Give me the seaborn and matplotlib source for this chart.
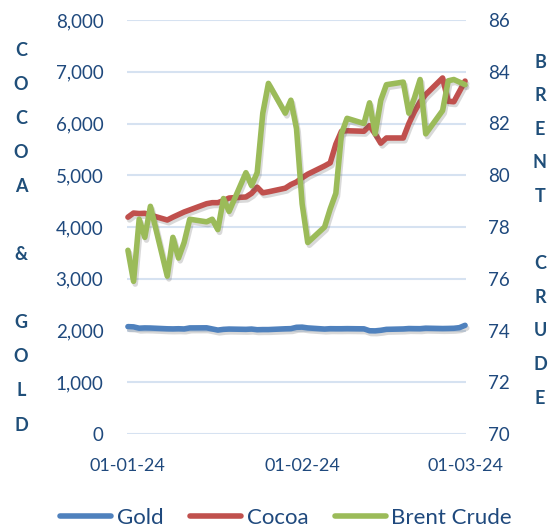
import pandas as pd
import matplotlib.pyplot as plt
import matplotlib.dates as mdates
import matplotlib.patheffects as pe
import seaborn as sns

# business days 01-01-24 .. 01-03-24
dates = pd.bdate_range("2024-01-01", "2024-03-01")

gold = [2075, 2070, 2045, 2050, 2048, 2033, 2031, 2034, 2030, 2050,
        2052, 2030, 2008, 2022, 2028, 2022, 2028, 2015, 2018, 2018,
        2033, 2036, 2062, 2065, 2050, 2028, 2035, 2034, 2034, 2036,
        2032, 1995, 1993, 2004, 2022, 2030, 2038, 2036, 2035, 2045,
        2038, 2040, 2043, 2055, 2100]

cocoa = [4190, 4270, 4260, 4265, 4230, 4135, 4190, 4240, 4290, 4330,
         4450, 4470, 4470, 4510, 4560, 4580, 4650, 4770, 4660, 4680,
         4750, 4820, 4870, 4950, 5020, 5180, 5240, 5600, 5850, 5860,
         5850, 5960, 5800, 5620, 5720, 5720, 6000, 6230, 6420, 6560,
         6880, 6430, 6420, 6620, 6820]

brent = [77.1, 75.9, 78.3, 77.6, 78.8, 76.1, 77.6, 76.8, 77.4, 78.3,
         78.2, 78.3, 77.9, 79.1, 78.6, 80.1, 79.6, 80.1, 82.4, 83.55,
         82.4, 82.9, 81.8, 78.9, 77.4, 78.0, 78.7, 79.3, 81.6, 82.2,
         82.0, 82.8, 81.6, 82.9, 83.5, 83.6, 82.4, 83.0, 83.7, 81.6,
         82.5, 83.65, 83.7, 83.6, 83.5]

x_ticks = ["2024-01-01", "2024-02-01", "2024-03-01"]

TXT = "#1f497d"
TITLE = "#1f4e79"

sns.set_theme(style="white")
plt.rcParams["font.family"] = ["Lato", "DejaVu Sans"]

fig = plt.figure(figsize=(5.51, 5.31), dpi=100)
ax = fig.add_axes([127 / 551, 1 - 434 / 531, 339 / 551, 414 / 531])
ax2 = ax.twinx()

shadow = [pe.SimpleLineShadow(offset=(1.2, -2.0), alpha=0.22, shadow_color="#555555"),
          pe.Normal()]
style = dict(lw=4, solid_joinstyle="round", solid_capstyle="round",
             path_effects=shadow, clip_on=False)

sns.lineplot(x=dates, y=gold, ax=ax, color="#4f81bd", label="Gold", legend=False, **style)
sns.lineplot(x=dates, y=cocoa, ax=ax, color="#c0504d", label="Cocoa", legend=False, **style)
sns.lineplot(x=dates, y=brent, ax=ax2, color="#9bbb59", label="Brent Crude", legend=False, **style)

ax.set_ylim(0, 8000)
ax.set_yticks(range(0, 8001, 1000))
ax.yaxis.set_major_formatter(plt.FuncFormatter(lambda v, p: f"{int(v):,}"))
ax2.set_ylim(70, 86)
ax2.set_yticks(range(70, 87, 2))

ax.set_xlim(dates[0] - pd.Timedelta(hours=4), dates[-1] + pd.Timedelta(hours=4))
ax.set_xticks(pd.to_datetime(x_ticks))
ax.xaxis.set_major_formatter(mdates.DateFormatter("%d-%m-%y"))

ax.grid(axis="y", color="#d6e2f1", lw=1.5)
ax.grid(axis="x", visible=False)
for a in (ax, ax2):
    for s in a.spines.values():
        s.set_visible(False)
    a.set_xlabel("")
    a.set_ylabel("")

ax.tick_params(axis="y", length=0, pad=17, labelsize=13.5, labelcolor=TXT)
ax2.tick_params(axis="y", length=0, pad=16, labelsize=13.5, labelcolor=TXT)
ax.tick_params(axis="x", length=0, pad=17, labelsize=13, labelcolor=TXT)

# stacked-letter axis titles
for i, ch in enumerate("COCOA & GOLD"):
    fig.text(21 / 551, 1 - (50 + i * 34.1) / 531, ch, ha="center", va="center",
             fontsize=13, fontweight="bold", color=TITLE)
for i, ch in enumerate("BRENT CRUDE"):
    fig.text(540 / 551, 1 - (62 + i * 33.6) / 531, ch, ha="center", va="center",
             fontsize=13, fontweight="bold", color=TITLE)

handles = ax.get_lines()[:2] + ax2.get_lines()[:1]
leg = fig.legend(handles, ["Gold", "Cocoa", "Brent Crude"], loc="center",
                 bbox_to_anchor=(286 / 551, 1 - 518 / 531), ncol=3, frameon=False,
                 fontsize=16, handlelength=2.3, handletextpad=0.25, columnspacing=1.2,
                 borderpad=0)
for t in leg.get_texts():
    t.set_color(TXT)
for h in leg.legend_handles:
    h.set_path_effects([])
    h.set_linewidth(4)

fig.savefig("out.png", dpi=100)
